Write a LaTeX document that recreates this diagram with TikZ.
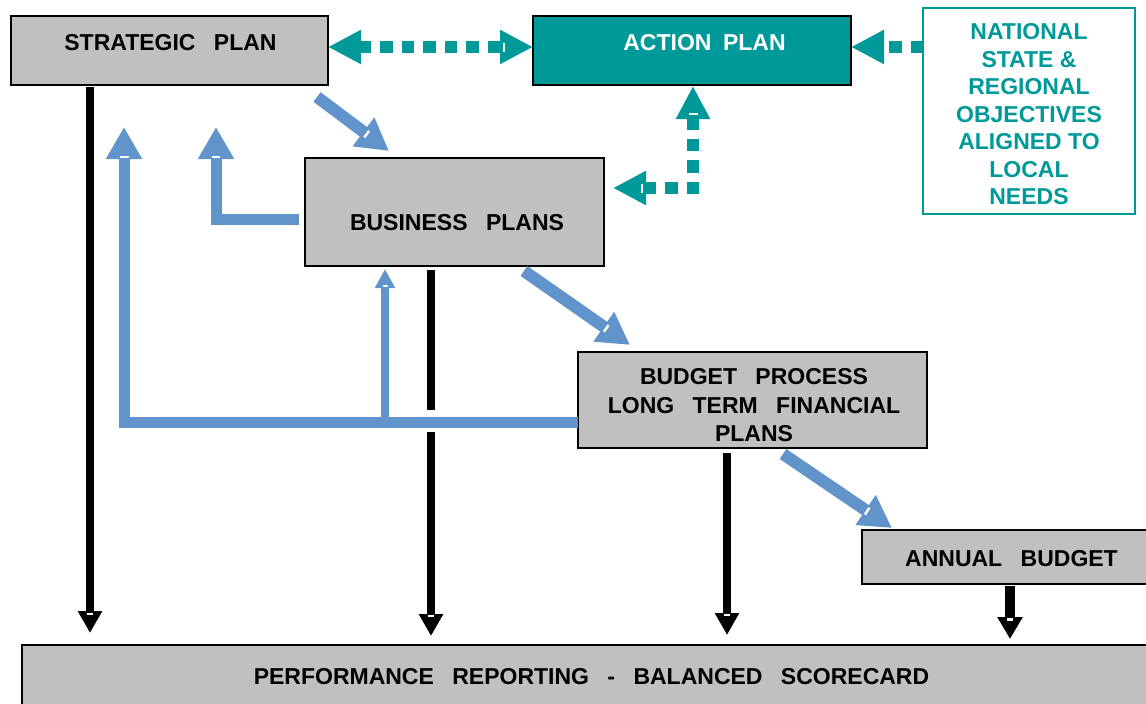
\documentclass[tikz,border=0pt]{standalone}
\usepackage{fontspec}
\setmainfont{Liberation Sans}
\usetikzlibrary{arrows.meta,calc}
\definecolor{boxgray}{RGB}{192,192,192}
\definecolor{tealc}{RGB}{0,153,153}
\definecolor{bluec}{RGB}{98,148,204}
\newcommand\wsp{\hspace{0.8em}}
% small white mark across a shaft just inside an arrow head: tip, other point, distance back, half width
\newcommand\arrmark[4]{\path ($(#1)!#3!(#2)$) coordinate (mk);
  \draw[white,line width=2.5pt] ($(mk)!#4!90:(#1)$) -- ($(mk)!#4!-90:(#1)$);}
\begin{document}
\begin{tikzpicture}[x=1pt,y=-1pt,
 box/.style={draw=black,line width=2pt,fill=boxgray,inner sep=0pt,outer sep=0pt},
 lbl/.style={font=\fontsize{23}{27.6}\selectfont\bfseries,inner sep=0pt,text height=16.5pt,text depth=0pt},
 mlbl/.style={font=\fontsize{23}{27.5}\selectfont\bfseries,inner sep=0pt,align=center},
 blk/.style={line width=8pt,draw=black,-{Triangle[length=22pt,width=23pt]}},
 bluearr/.style={line width=12pt,draw=bluec,-{Triangle[length=32pt,width=34pt]}},
 tealdash/.style={line width=12pt,draw=tealc,dash pattern=on 12.5pt off 9pt},
 ttip/.tip={Triangle[length=33pt,width=32pt]}
]
\useasboundingbox (0,0) rectangle (1146,704);
% boxes
\node[box,minimum width=317pt,minimum height=69pt] (sp) at (169.5,50.5) {};
\node[box,fill=tealc,minimum width=318pt,minimum height=69pt] (ap) at (692,50.5) {};
\node[box,draw=tealc,fill=white,minimum width=212pt,minimum height=206pt] (nt) at (1029,111) {};
\node[box,minimum width=299pt,minimum height=108pt] (bp) at (454.5,212) {};
\node[box,line width=1.5pt,minimum width=349pt,minimum height=96pt] (bu) at (752.5,400) {};
\node[box,line width=1.5pt,minimum width=298pt,minimum height=54pt] (ab) at (1011,557) {};
\node[box,line width=1.5pt,minimum width=1148pt,minimum height=75pt] (pr) at (596,682.5) {};
% labels
\node[lbl] (tsp) at (170.5,42) {STRATEGIC\wsp PLAN};
\node[lbl,text=white] (tap) at (704.5,42) {ACTION\hspace{0.5em}PLAN};
\node[mlbl,text=tealc] (tnt) at (1029,114.5) {NATIONAL\\STATE \&\\REGIONAL\\OBJECTIVES\\ALIGNED TO\\LOCAL\\NEEDS};
\node[lbl] (tbp) at (457,222) {BUSINESS\wsp PLANS};
\node[mlbl,font=\fontsize{23}{28.5}\selectfont\bfseries] (tbu) at (754,405.5) {BUDGET\wsp PROCESS\\LONG\wsp TERM\wsp FINANCIAL\\PLANS};
\node[lbl] (tab) at (1011.5,558) {ANNUAL\wsp BUDGET};
\node[lbl] (tpr) at (591.5,676) {PERFORMANCE\wsp REPORTING\wsp -\wsp BALANCED\wsp SCORECARD};
% coordinates
\coordinate (k1) at (90,0);
\coordinate (k2) at (431,0);
\coordinate (k3) at (727,0);
\coordinate (k4) at (1010,0);
\coordinate (g1) at (431,410);
\coordinate (g2) at (431,432);
\coordinate (ty) at (0,47);
\coordinate (tc) at (693,188);
\coordinate (b1s) at (317,97);
\coordinate (b1e) at (389,151);
\coordinate (b2s) at (524,271);
\coordinate (b2e) at (630,345);
\coordinate (b3s) at (783,454);
\coordinate (b3e) at (892,528);
\coordinate (e1) at (216,219);
\coordinate (e1t) at (216,127);
\coordinate (e2) at (124,422);
\coordinate (e2t) at (124,127);
\coordinate (e3) at (385,422);
\coordinate (e3t) at ($(bp.south -| e3)+(0,3)$);
\coordinate (kt1) at ($(pr.north -| k1)+(0,-12)$);
\coordinate (kt2) at ($(pr.north -| k2)+(0,-9)$);
\coordinate (kt3) at ($(pr.north -| k3)+(0,-10)$);
\coordinate (kt4) at ($(pr.north -| k4)+(0,-6)$);
\coordinate (tt1) at ($(ap.south -| tc)+(0,1)$);
\coordinate (tt2) at ($(bp.east |- tc)+(9,0)$);
\coordinate (tt3) at (ap.west |- ty);
% blue arrows
\draw[bluearr,line width=11pt,shorten <=6pt] (bp.west |- e1) -- (e1) -- (e1t);
\draw[bluearr,line width=11pt] (bu.west |- e2) -- (e2) -- (e2t);
\draw[line width=8pt,draw=bluec,-{Triangle[length=19pt,width=19pt]}] (e3) -- (e3t);
\draw[bluearr] (b1s) -- (b1e);
\draw[bluearr] (b2s) -- (b2e);
\draw[bluearr] (b3s) -- (b3e);
% black arrows
\draw[blk,shorten <=2pt] (sp.south -| k1) -- (kt1);
\draw[line width=8pt,shorten <=4pt] (bp.south -| k2) -- (g1);
\draw[blk] (g2) -- (kt2);
\draw[blk,shorten <=5pt] (bu.south -| k3) -- (kt3);
\draw[blk,line width=10pt,-{Triangle[length=22pt,width=24pt]},shorten <=2pt] (ab.south -| k4) -- (kt4);
% teal dotted arrows
\draw[tealdash,ttip-ttip] (sp.east |- ty) -- (tt3);
\draw[tealdash,-ttip] (nt.west |- ty) -- (ap.east |- ty);
\draw[tealdash,ttip-ttip] (tt2) -- (tc) -- (tt1);
% white marks at head bases
\arrmark{e1t}{e1}{30pt}{4pt}
\arrmark{e2t}{e2}{30pt}{4.5pt}
\arrmark{e3t}{e3}{17pt}{2.5pt}
\arrmark{b1e}{b1s}{28pt}{4pt}
\arrmark{b2e}{b2s}{29pt}{4pt}
\arrmark{b3e}{b3s}{30pt}{4pt}
\arrmark{kt1}{k1}{19pt}{3pt}
\arrmark{kt2}{g2}{20pt}{3pt}
\arrmark{kt3}{k3}{20pt}{3pt}
\arrmark{kt4}{k4}{19.5pt}{3pt}
\arrmark{tt1}{tc}{28pt}{4.5pt}
\arrmark{tt2}{tc}{29pt}{4.5pt}
\arrmark{tt3}{sp.east |- ty}{29pt}{4.5pt}
\end{tikzpicture}
\end{document}
